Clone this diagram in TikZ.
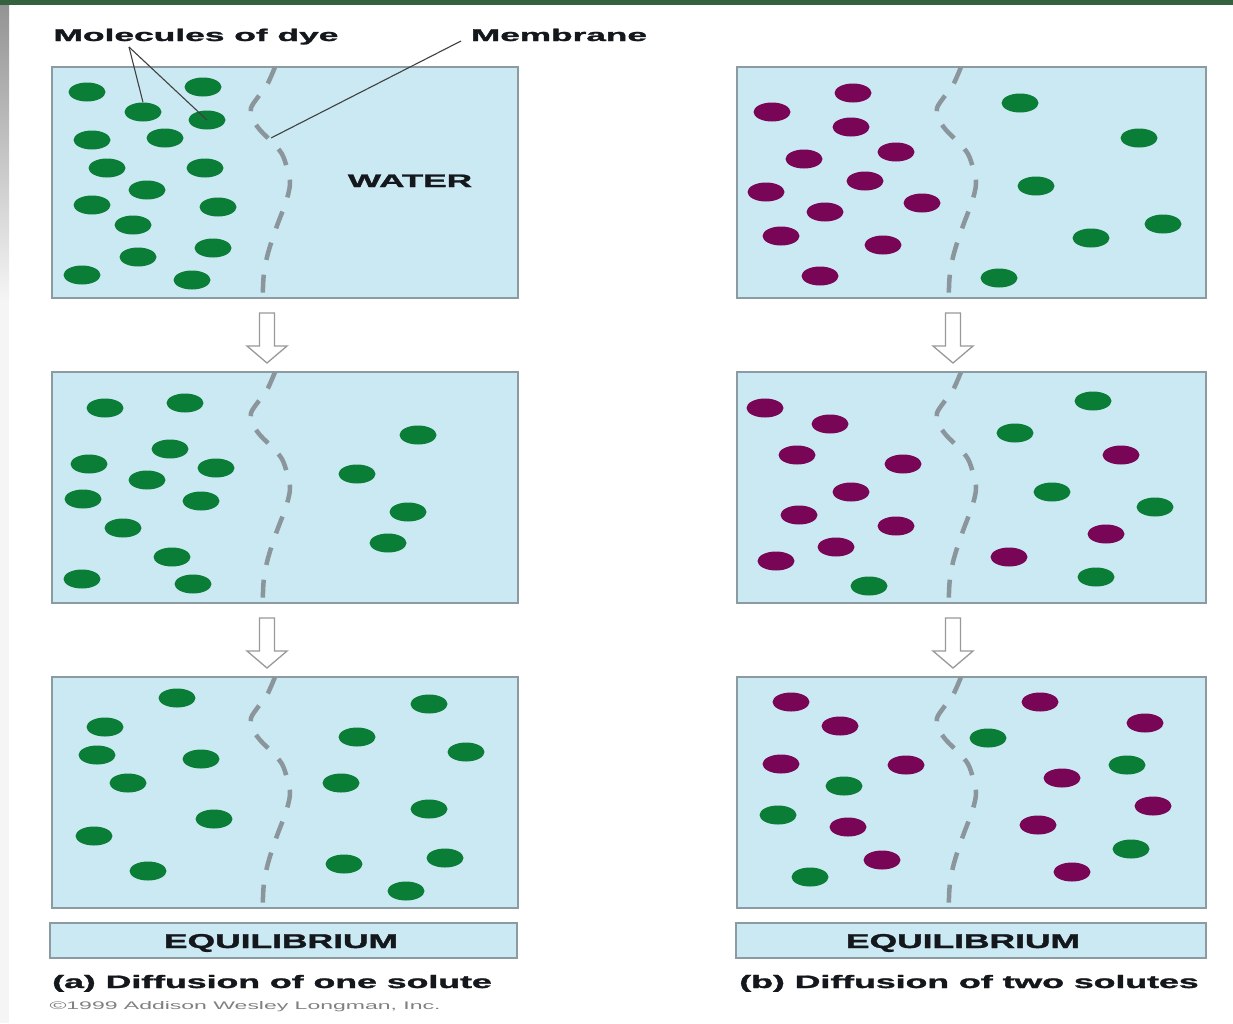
\documentclass[tikz,border=0pt]{standalone}
\usepackage{fontspec}
\setmainfont{Liberation Sans}
\newfontfamily\heavyfont[FakeBold=1.3]{Liberation Sans Bold}
\usetikzlibrary{shapes.geometric}
\definecolor{panelfill}{RGB}{203,233,243}
\definecolor{panelline}{RGB}{140,155,162}
\definecolor{dyegreen}{RGB}{10,125,55}
\definecolor{dyepurple}{RGB}{120,5,85}
\definecolor{membr}{RGB}{138,150,156}
\definecolor{topbar}{RGB}{52,98,63}
\definecolor{txt}{RGB}{20,24,28}
\begin{document}
\begin{tikzpicture}[x=1pt,y=-1pt,
  panel/.style={draw=panelline, line width=1.8pt, fill=panelfill},
  gdot/.style={ellipse, fill=dyegreen, minimum width=37pt, minimum height=19pt, inner sep=0pt},
  pdot/.style={ellipse, fill=dyepurple, minimum width=37pt, minimum height=19pt, inner sep=0pt},
  memline/.style={draw=membr, line width=4.5pt, dash pattern=on 18pt off 15pt},
  ptr/.style={draw=black!75, line width=1.1pt},
  bigarrow/.style={draw=black!40, fill=white, line width=1.3pt, line join=miter},
  lbl/.style={inner sep=0pt, text=txt, anchor=base},
]
\useasboundingbox (0,0) rectangle (1233,1023);
\fill[white] (0,0) rectangle (1233,1023);
% frame edges
\shade[top color=black!42, bottom color=black!4] (0,5) rectangle (9,300);
\fill[black!4] (0,300) rectangle (9,1023);
\fill[topbar] (0,0) rectangle (1233,5);

% panels
\foreach \px/\w in {52/466,737/469}{
  \foreach \py in {67,372,677}{
    \draw[panel] (\px,\py) rectangle ++(\w,231);
  }
}
\draw[panel] (50,923) rectangle (517,958);
\draw[panel] (736,923) rectangle (1206,958);

% membranes
\foreach \dx/\dy in {0/0,0/305,0/610,686/0,686/305,686/610}{
  \draw[memline, shift={(\dx,\dy)}] plot[smooth, tension=0.55] coordinates
    {(275,67) (267,85) (258,97) (251,108) (252,118) (260,130) (273,143) (282,154)
     (287,168) (290,182) (288,195) (283,210) (278,223) (272,240) (267,257) (264,273) (263,287) (263,299)};
}

% arrows
\foreach \cx/\ty in {267/313, 267/618, 953/313, 953/618}{
  \draw[bigarrow] (\cx-7.5,\ty) -- (\cx+7.5,\ty) -- (\cx+7.5,\ty+33) -- (\cx+20,\ty+33)
     -- (\cx,\ty+50) -- (\cx-20,\ty+33) -- (\cx-7.5,\ty+33) -- cycle;
}

% panel a1
\foreach \x/\y [count=\i] in {87/92, 203/87, 143/112, 207/120, 92/140, 165/138, 107/168, 205/168, 147/190, 92/205, 218/207, 133/225, 213/248, 138/257, 82/275, 192/280}
  \node[gdot] (a1g\i) at (\x,\y) {};
% panel a2
\foreach \x/\y [count=\i] in {105/408, 185/403, 418/435, 170/449, 89/464, 216/468, 147/480, 357/474, 83/499, 201/501, 408/512, 123/528, 388/543, 172/557, 82/579, 193/584}
  \node[gdot] (a2g\i) at (\x,\y) {};
% panel a3
\foreach \x/\y [count=\i] in {177/698, 429/704, 105/727, 357/737, 97/755, 201/759, 466/752, 128/783, 341/783, 214/819, 429/809, 94/836, 344/864, 445/858, 148/871, 406/891}
  \node[gdot] (a3g\i) at (\x,\y) {};
% panel b1
\foreach \x/\y [count=\i] in {853/93, 772/112, 851/127, 804/159, 896/152, 865/181, 766/192, 825/212, 922/203, 781/236, 883/245, 820/276}
  \node[pdot] (b1p\i) at (\x,\y) {};
\foreach \x/\y [count=\i] in {1020/103, 1139/138, 1036/186, 1163/224, 1091/238, 999/278}
  \node[gdot] (b1g\i) at (\x,\y) {};
% panel b2
\foreach \x/\y [count=\i] in {765/408, 830/424, 797/455, 903/464, 851/492, 799/515, 896/526, 836/547, 776/561, 1121/455, 1106/534, 1009/557}
  \node[pdot] (b2p\i) at (\x,\y) {};
\foreach \x/\y [count=\i] in {1093/401, 1015/433, 1052/492, 1155/507, 1096/577, 869/586}
  \node[gdot] (b2g\i) at (\x,\y) {};
% panel b3
\foreach \x/\y [count=\i] in {791/702, 840/726, 781/764, 906/765, 1040/702, 1145/723, 1062/778, 1153/806, 848/827, 1038/825, 882/860, 1072/872}
  \node[pdot] (b3p\i) at (\x,\y) {};
\foreach \x/\y [count=\i] in {988/738, 1127/765, 844/786, 778/815, 1131/849, 810/877}
  \node[gdot] (b3g\i) at (\x,\y) {};

% labels
\node[lbl, font=\heavyfont\fontsize{17}{17}\selectfont, xscale=2.08] (lblmol) at (196,41) {Molecules of dye};
\node[lbl, font=\heavyfont\fontsize{17}{17}\selectfont, xscale=2.07] (lblmem) at (559,41) {Membrane};
\node[lbl, font=\heavyfont\fontsize{18}{18}\selectfont, xscale=1.95] (water) at (410,187) {WATER};
\node[lbl, font=\heavyfont\fontsize{20}{20}\selectfont, xscale=1.77] (eqa) at (281,948) {EQUILIBRIUM};
\node[lbl, font=\heavyfont\fontsize{20}{20}\selectfont, xscale=1.77] (eqb) at (963,948) {EQUILIBRIUM};
\node[lbl, font=\heavyfont\fontsize{18}{18}\selectfont, xscale=1.98] (capa) at (272,988) {(a) Diffusion of one solute};
\node[lbl, font=\heavyfont\fontsize{18}{18}\selectfont, xscale=1.98] (capb) at (969,988) {(b) Diffusion of two solutes};
\node[lbl, font=\fontsize{11}{11}\selectfont, xscale=2.09, text=black!50] (copy) at (245,1009) {\textcopyright1999 Addison Wesley Longman, Inc.};

% pointers
\coordinate (molapex) at (129,47);
\coordinate (memstart) at (461,41);
\coordinate (memtip) at (271,138);
\draw[ptr] (molapex) -- (a1g3.north);
\draw[ptr] (molapex) -- (a1g4.center);
\draw[ptr] (memstart) -- (memtip);
\end{tikzpicture}
\end{document}
